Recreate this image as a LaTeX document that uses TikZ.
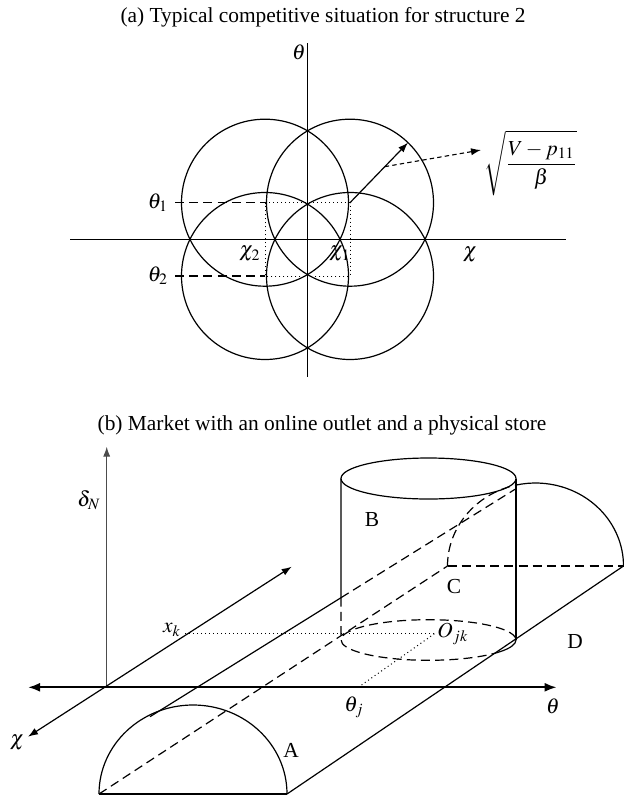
\documentclass[tikz,border=0pt]{standalone}
\usepackage{mathptmx}
\usepackage[no-math]{fontspec}
\setmainfont{Liberation Serif}
\usetikzlibrary{arrows.meta,calc}
\begin{document}
\begin{tikzpicture}[x=0.5pt,y=-0.5pt,font=\fontsize{10.7}{13}\selectfont]
\tikzset{
  ln/.style={line width=0.6pt},
  axis/.style={line width=0.75pt},
  dsh/.style={line width=0.6pt,dash pattern=on 4.5pt off 2.6pt},
  dshs/.style={line width=0.55pt,dash pattern=on 2.2pt off 1.6pt},
  dtt/.style={line width=0.5pt,dash pattern=on 0.5pt off 1.5pt},
  tip/.style={-{Latex[length=5pt,width=3.6pt]}},
  lbl/.style={inner sep=0pt},
}
\useasboundingbox (0,0) rectangle (623,798);
% ---------------- (a) ----------------
\node[lbl] (titleA) at (323,17) {(a) Typical competitive situation for structure 2};
\coordinate (aT) at (307.5,43);
\coordinate (aB) at (307.5,377);
\coordinate (aL) at (70,239.3);
\coordinate (aR) at (566,239.3);
\draw[axis] (aT) -- (aB);
\draw[axis] (aL) -- (aR);
\node[lbl] (thA) at (299,52) {$\theta$};
\coordinate (c21) at (265,202.7);
\coordinate (c11) at (350,202.7);
\coordinate (c22) at (265,276);
\coordinate (c12) at (350,276);
\foreach \c in {c21,c11,c22,c12} \draw[ln] (\c) circle[radius=83.5];
\draw[dtt] (c21) -- (c11) -- (c12) -- (c22) -- cycle;
\coordinate (d1) at (175,202.7);
\coordinate (d2) at (175,276);
\draw[dsh] (d1) -- (c21);
\draw[dsh] (d2) -- (c22);
\node[lbl] (th1) at (158,203) {$\theta_1$};
\node[lbl] (th2) at (158,276) {$\theta_2$};
\node[lbl] (chi2) at (250,254) {$\chi_2$};
\node[lbl] (chi1) at (340,254) {$\chi_1$};
\node[lbl] (chiA) at (470,255) {$\chi$};
\coordinate (rT) at ($(c11)+(-46:83.5)$);
\draw[ln,tip] (c11) -- (rT);
\coordinate (rM) at ($(c11)!0.6!(rT)$);
\node[lbl,anchor=west] (sq) at (484,163) {$\displaystyle\sqrt{\frac{V-p_{11}}{\beta}}$};
\draw[dshs,tip] (rM) -- (481,150);
% ---------------- (b) ----------------
\node[lbl] (titleB) at (322,425) {(b) Market with an online outlet and a physical store};
\coordinate (O) at (106.7,687.3);
\coordinate (dTop) at (106.7,446.7);
\coordinate (thL) at (28,687.3);
\coordinate (thR) at (556.7,687.3);
\coordinate (chF) at (28,736.7);
\coordinate (chB) at (291.7,566.7);
\draw[line width=0.55pt,black!70,tip] (O) -- (dTop);
\draw[line width=1.1pt,{Latex[length=6pt,width=4.5pt]}-{Latex[length=6pt,width=4.5pt]}] (thL) -- (thR);
\draw[ln,{Latex[length=5pt,width=3.6pt]}-{Latex[length=5pt,width=3.6pt]}] (chF) -- (chB);
\node[lbl] (dN) at (89,500) {$\delta_N$};
\node[lbl] (thB) at (553,706) {$\theta$};
\node[lbl] (chiB) at (17,743) {$\chi$};
% trough
\coordinate (FL) at (99,794);
\coordinate (FR) at (287,794);
\coordinate (BL) at (447.5,566);
\coordinate (BR) at (623.5,566);
\draw[ln] (FL) arc[start angle=180,end angle=360,x radius=94,y radius=89];
\draw[ln] (FL) -- (FR);
\draw[ln] (FR) -- (BR);
\draw[dsh] (FL) -- (BL);
\draw[dsh] (BL) -- (BR);
\coordinate (Bc) at (535.5,566);
\draw[dsh] (BL) arc[start angle=180,end angle=257.2,x radius=88,y radius=83];
\coordinate (Bs) at ($(Bc)+(257.2:88 and 83)$);
\draw[ln] (Bs) arc[start angle=257.2,end angle=360,x radius=88,y radius=83];
\coordinate (RF) at (150,716.7);
\coordinate (RB) at (515,489.3);
\coordinate (RC) at ($(RF)!{(341-150)/(515-150)}!(RB)$);
\draw[ln] (RF) -- (RC);
\draw[dsh] (RC) -- (RB);
% cylinder
\coordinate (Tc) at (428.5,478.5);
\coordinate (Ec) at (428.5,640);
\draw[ln] (Tc) ellipse[x radius=87.5,y radius=20.5];
\coordinate (TL) at (341,478.5);
\coordinate (TR) at (516,478.5);
\coordinate (EL) at (341,640);
\coordinate (ER) at (516,640);
\draw[ln] (TL) -- (RC);
\draw[dsh] (RC) -- (EL);
\draw[ln] (TR) -- (ER);
\coordinate (Es) at ($(Ec)+(35:87.5 and 20.3)$);
\draw[dsh] (Es) arc[start angle=35,end angle=360,x radius=87.5,y radius=20.3];
\draw[ln] (ER) arc[start angle=0,end angle=35,x radius=87.5,y radius=20.3];
% dotted guides
\coordinate (Ojk) at (435,633.3);
\coordinate (xk) at (185,633.3);
\coordinate (thj) at (358.3,687.3);
\draw[dtt] (xk) -- (Ojk);
\draw[dtt] (thj) -- (Ojk);
\node[lbl] (xkL) at (172,630) {$x_k$};
\node[lbl,anchor=west] (OjkL) at (437,634) {$O_{jk}$};
\node[lbl] (thjL) at (354,707) {$\theta_j$};
\node[lbl] (A) at (291,750) {A};
\node[lbl] (B) at (372,520) {B};
\node[lbl] (C) at (454,587) {C};
\node[lbl] (D) at (575,642) {D};
\end{tikzpicture}
\end{document}
